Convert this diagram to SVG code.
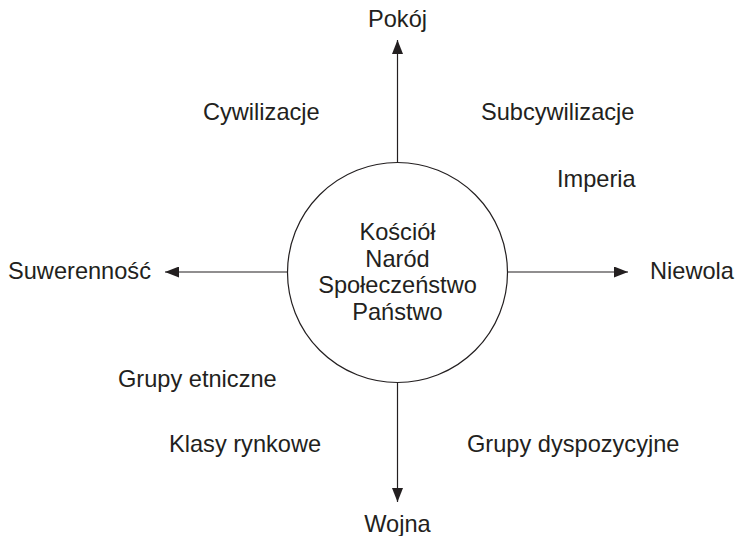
<svg xmlns="http://www.w3.org/2000/svg" width="737" height="536" viewBox="0 0 737 536">
<style>
text{font-family:"Liberation Sans",Arial,sans-serif;font-size:23.6px;fill:#231f20}
.c{text-anchor:middle}
.ln{stroke:#231f20;stroke-width:1.2;fill:none}
</style>
<defs>
<marker id="ah" viewBox="0 0 14 11" refX="14" refY="5.5" markerWidth="14" markerHeight="11" markerUnits="userSpaceOnUse" orient="auto">
<path d="M0,0 L14,5.5 L0,11 Z" fill="#231f20"/>
</marker>
</defs>
<rect width="737" height="536" fill="#fff"/>
<g id="connectors">
<line class="ln" x1="397.5" y1="163" x2="397.5" y2="40" marker-end="url(#ah)"/>
<line class="ln" x1="397.5" y1="383" x2="397.5" y2="502" marker-end="url(#ah)"/>
<line class="ln" x1="287.5" y1="272" x2="165" y2="272" marker-end="url(#ah)"/>
<line class="ln" x1="507.5" y1="272" x2="628" y2="272" marker-end="url(#ah)"/>
</g>
<g id="center">
<circle cx="397.5" cy="272.5" r="110" fill="#fff" stroke="#231f20" stroke-width="1.2"/>
<text class="c" x="397.5" y="240">Kościół</text>
<text class="c" x="397.5" y="267">Naród</text>
<text class="c" x="397.5" y="293">Społeczeństwo</text>
<text class="c" x="397.5" y="320">Państwo</text>
</g>
<g id="pokoj"><text class="c" x="397.5" y="27">Pokój</text></g>
<g id="wojna"><text class="c" x="397.5" y="532">Wojna</text></g>
<g id="suwerennosc"><text x="8" y="279">Suwerenność</text></g>
<g id="niewola"><text x="650" y="279">Niewola</text></g>
<g id="cywilizacje"><text x="203" y="120">Cywilizacje</text></g>
<g id="subcywilizacje"><text x="481" y="120">Subcywilizacje</text></g>
<g id="imperia"><text x="557" y="187">Imperia</text></g>
<g id="grupy-etniczne"><text x="118" y="387">Grupy etniczne</text></g>
<g id="klasy-rynkowe"><text x="169" y="452">Klasy rynkowe</text></g>
<g id="grupy-dyspozycyjne"><text x="467" y="452">Grupy dyspozycyjne</text></g>
</svg>
